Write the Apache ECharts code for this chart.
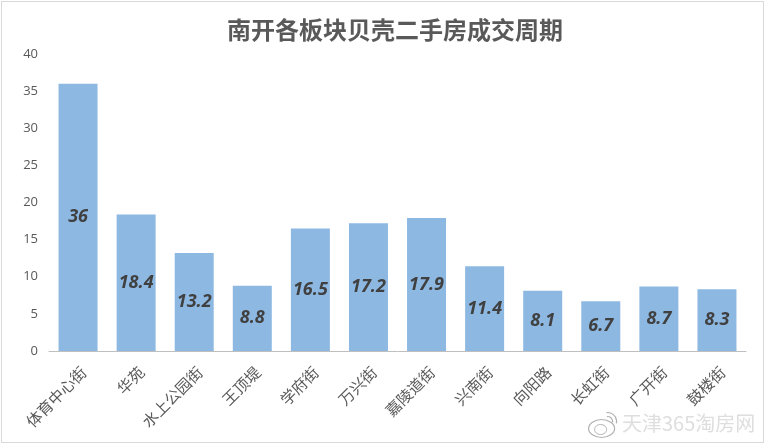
<!DOCTYPE html>
<html><head><meta charset="utf-8">
<style>html,body{margin:0;padding:0;background:#fff}#c{position:absolute;left:0;top:0;width:765px;height:443px}
#f{position:absolute;left:1px;top:1px;width:761px;height:440px;border:1px solid #d9d9d9;pointer-events:none}</style>
<script src="https://cdn.jsdelivr.net/npm/echarts@6/dist/echarts.min.js"></script>
</head><body><div id="c"></div><div id="f"></div>
<script>
const titleText = '南开各板块贝壳二手房成交周期';
const categories = ['体育中心街','华苑','水上公园街','王顶堤','学府街','万兴街','嘉陵道街','兴南街','向阳路','长虹街','广开街','鼓楼街'];
const cycleValues = [36,18.4,13.2,8.8,16.5,17.2,17.9,11.4,8.1,6.7,8.7,8.3];
const yTicks = [0,40,5];
const watermark = '天津365淘房网';
const chart = echarts.init(document.getElementById('c'));
const cjk = '"Noto Sans CJK SC","Noto Sans",sans-serif';
chart.setOption({
  animation:false,
  backgroundColor:'#fff',
  title:{text:titleText,left:227,top:18,padding:0,textStyle:{fontFamily:cjk,fontSize:24,fontWeight:'bold',color:'#595959'}},
  grid:{left:49,right:19,top:54,bottom:92},
  xAxis:{type:'category',data:categories,
    axisLine:{lineStyle:{color:'#bfbfbf',width:1}},axisTick:{show:false},
    axisLabel:{rotate:45,interval:0,margin:13,verticalAlign:'top',fontFamily:cjk,fontSize:15.5,color:'#595959'}},
  yAxis:{type:'value',min:yTicks[0],max:yTicks[1],interval:yTicks[2],
    axisLine:{show:false},axisTick:{show:false},splitLine:{show:false},
    axisLabel:{margin:11,fontFamily:'"Open Sans",sans-serif',fontSize:13,color:'#595959'}},
  series:[{type:'bar',data:cycleValues,barWidth:39,itemStyle:{color:'#8db8e2'},
    label:{show:true,position:'inside',fontFamily:'"Open Sans",sans-serif',fontSize:18,fontWeight:'bold',fontStyle:'italic',color:'#404040'}}],
  graphic:[
    {type:'text',left:622,top:413,silent:true,style:{text:watermark,fontFamily:cjk,fontSize:20,fill:'#dedede'}},
    {type:'group',left:588,top:410,silent:true,children:[
      {type:'ellipse',shape:{cx:14,cy:16,rx:13,ry:9},style:{fill:'#fff',stroke:'#b0b0b0',lineWidth:1.2}},
      {type:'ellipse',shape:{cx:13,cy:17,rx:6,ry:5},style:{fill:'#fff',stroke:'#b0b0b0',lineWidth:1}},
      {type:'arc',shape:{cx:20,cy:9,r:5,startAngle:-1.7,endAngle:0.2},style:{stroke:'#b0b0b0',lineWidth:1.2,fill:'none'}},
      {type:'arc',shape:{cx:20,cy:9,r:9,startAngle:-1.7,endAngle:0.2},style:{stroke:'#b0b0b0',lineWidth:1.2,fill:'none'}}
    ]}
  ]
});
</script></body></html>
